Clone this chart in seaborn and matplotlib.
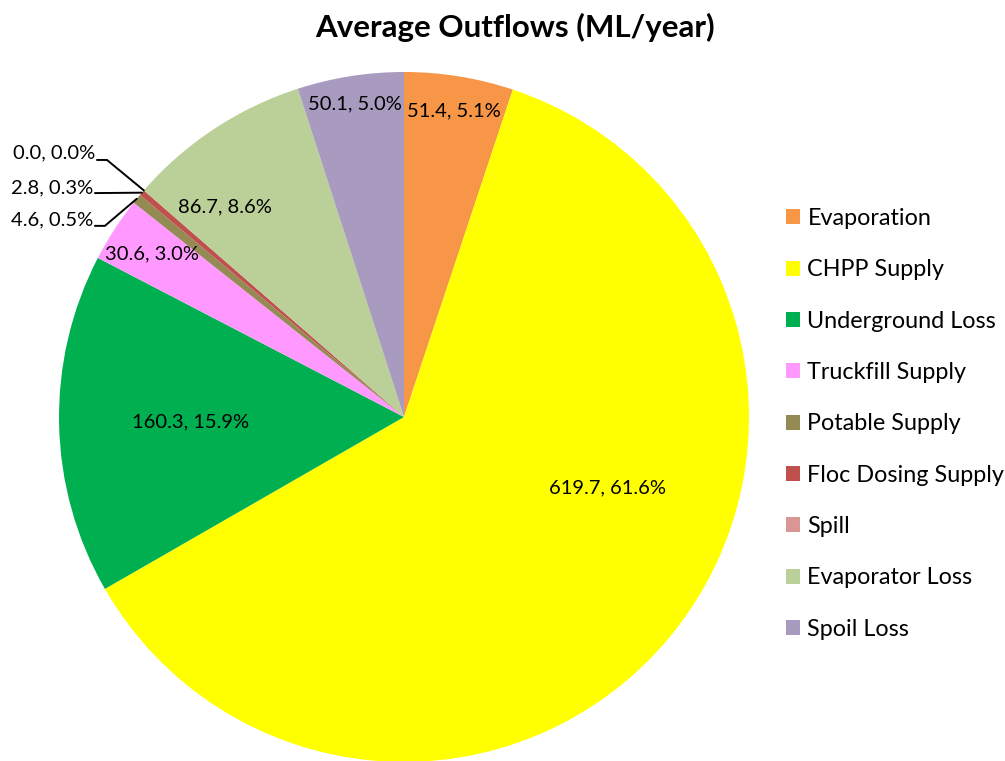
import numpy as np
import matplotlib
matplotlib.use("Agg")
import matplotlib.pyplot as plt
import seaborn as sns

categories = ["Evaporation", "CHPP Supply", "Underground Loss", "Truckfill Supply",
              "Potable Supply", "Floc Dosing Supply", "Spill", "Evaporator Loss", "Spoil Loss"]
values = [51.4, 619.7, 160.3, 30.6, 4.6, 2.8, 0.0, 86.7, 50.1]
percents = [5.1, 61.6, 15.9, 3.0, 0.5, 0.3, 0.0, 8.6, 5.0]
colors = ["#F79646", "#FFFF00", "#00B050", "#FF99FF", "#948A54",
          "#C0504D", "#D99694", "#BBCF98", "#A99BBF"]
title = "Average Outflows (ML/year)"

sns.set_theme(style="white")
plt.rcParams['font.family'] = ['Lato', 'DejaVu Sans']
plt.rcParams['text.color'] = 'black'

fig = plt.figure(figsize=(10.05, 7.61), dpi=100)
ax = fig.add_axes([0.0587, -0.0013, 0.6866, 0.9067])
wedges, _ = ax.pie(values, colors=colors, startangle=90, counterclock=False,
                   radius=1.0, wedgeprops=dict(linewidth=0))
ax.set_xlim(-1, 1)
ax.set_ylim(-1, 1)
ax.set_aspect("equal")
ax.axis("off")

labels = [f"{v:.1f}, {p:.1f}%" for v, p in zip(values, percents)]
# label placement: radial fraction and fraction of the wedge's span (clockwise from its start)
radfrac = [0.90, 0.625, 0.62, 0.87, None, None, None, 0.80, 0.92]
angfrac = [0.5, 0.41, 0.5, 0.5, None, None, None, 0.27, 0.5]
for w, lab, rf, af in zip(wedges, labels, radfrac, angfrac):
    if rf is None:
        continue
    ang = np.deg2rad(w.theta2 - af * (w.theta2 - w.theta1))
    ax.text(rf * np.cos(ang), rf * np.sin(ang), lab, ha="center", va="center",
            fontsize=14.5, color="black")

# outside labels with leader lines (Potable, Floc, Spill)
label_pos = {6: (-0.896, 0.767), 5: (-0.901, 0.665), 4: (-0.901, 0.571)}
line_start = {6: [(-0.890, 0.745), (-0.861, 0.745)],
              5: [(-0.896, 0.649)],
              4: [(-0.896, 0.554), (-0.867, 0.554)]}
for i in [6, 5, 4]:
    w = wedges[i]
    ang = np.deg2rad((w.theta1 + w.theta2) / 2)
    ex, ey = np.cos(ang), np.sin(ang)
    pts = line_start[i] + [(ex, ey)]
    ax.plot([p[0] for p in pts], [p[1] for p in pts], color="black", linewidth=1.4,
            solid_joinstyle="miter", clip_on=False)
    tx, ty = label_pos[i]
    ax.text(tx, ty, labels[i], ha="right", va="center", fontsize=14.5, color="black")

fig.text(0.512, 0.964, title, ha="center", va="center", fontsize=22.5,
         fontweight="bold", color="black")

leg = fig.legend(wedges, categories, loc="center left", bbox_to_anchor=(0.782, 0.443),
                 frameon=False, fontsize=16.8, handlelength=0.62, handleheight=0.62,
                 handletextpad=0.3, labelspacing=1.30, borderpad=0, borderaxespad=0,
                 labelcolor="black")

fig.savefig("out.png", dpi=100, facecolor="white")
